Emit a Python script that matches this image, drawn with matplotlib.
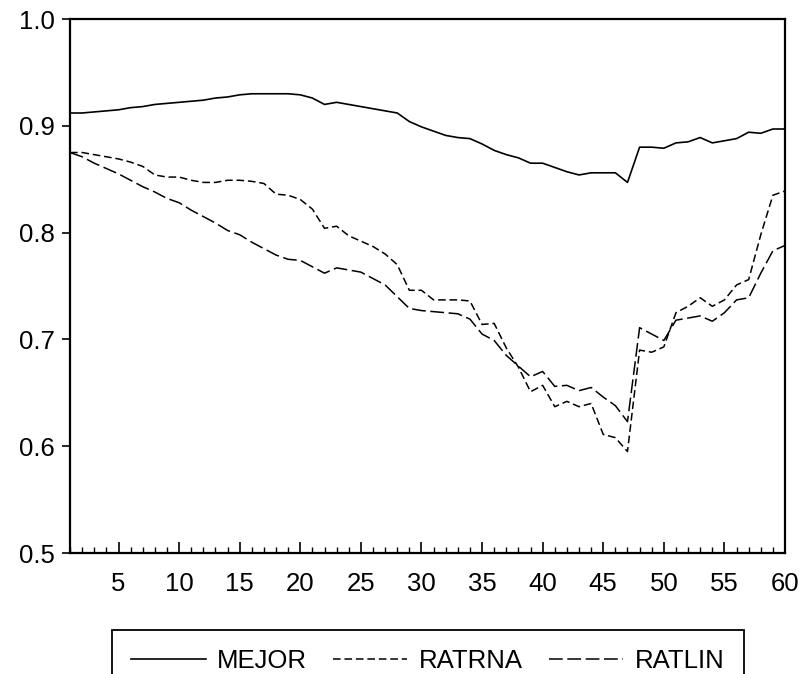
import matplotlib
matplotlib.use("Agg")
import matplotlib.pyplot as plt
from matplotlib.ticker import MultipleLocator, FormatStrFormatter

periods = list(range(1, 61))

mejor = [
    0.912, 0.912, 0.913, 0.914, 0.915, 0.917, 0.918, 0.920, 0.921, 0.922,
    0.923, 0.924, 0.926, 0.927, 0.929, 0.930, 0.930, 0.930, 0.930, 0.929,
    0.926, 0.920, 0.922, 0.920, 0.918, 0.916, 0.914, 0.912, 0.904, 0.899,
    0.895, 0.891, 0.889, 0.888, 0.883, 0.877, 0.873, 0.870, 0.865, 0.865,
    0.861, 0.857, 0.854, 0.856, 0.856, 0.856, 0.847, 0.880, 0.880, 0.879,
    0.884, 0.885, 0.889, 0.884, 0.886, 0.888, 0.894, 0.893, 0.897, 0.897,
]

ratrna = [
    0.875, 0.875, 0.873, 0.871, 0.869, 0.866, 0.862, 0.854, 0.852, 0.852,
    0.849, 0.847, 0.847, 0.849, 0.849, 0.848, 0.846, 0.836, 0.835, 0.831,
    0.822, 0.804, 0.806, 0.797, 0.792, 0.787, 0.780, 0.770, 0.746, 0.746,
    0.737, 0.737, 0.737, 0.736, 0.714, 0.715, 0.692, 0.674, 0.651, 0.657,
    0.637, 0.642, 0.637, 0.640, 0.611, 0.608, 0.595, 0.690, 0.688, 0.693,
    0.725, 0.731, 0.739, 0.731, 0.737, 0.751, 0.756, 0.798, 0.835, 0.839,
]

ratlin = [
    0.875, 0.871, 0.865, 0.860, 0.855, 0.849, 0.843, 0.838, 0.832, 0.828,
    0.821, 0.815, 0.809, 0.802, 0.798, 0.791, 0.785, 0.779, 0.775, 0.774,
    0.768, 0.762, 0.767, 0.765, 0.763, 0.757, 0.751, 0.740, 0.729, 0.727,
    0.726, 0.725, 0.724, 0.719, 0.705, 0.699, 0.685, 0.675, 0.665, 0.670,
    0.656, 0.657, 0.652, 0.655, 0.646, 0.638, 0.623, 0.711, 0.705, 0.699,
    0.718, 0.720, 0.722, 0.717, 0.725, 0.737, 0.739, 0.762, 0.783, 0.788,
]

plt.rcParams["font.family"] = ["Liberation Sans", "DejaVu Sans"]
plt.rcParams["font.size"] = 18.5

fig = plt.figure(figsize=(8.04, 6.74), dpi=100)
ax = fig.add_axes([0.0871, 0.1795, 0.8893, 0.7923])

ax.plot(periods, mejor, color="black", lw=1.2, label="MEJOR")
ax.plot(periods, ratrna, color="black", lw=1.1, dashes=(5, 2.5), label="RATRNA")
ax.plot(periods, ratlin, color="black", lw=1.1, dashes=(9, 3), label="RATLIN")

ax.set_xlim(1, 60)
ax.set_ylim(0.5, 1.0)

ax.xaxis.set_major_locator(MultipleLocator(5))
ax.xaxis.set_minor_locator(MultipleLocator(1))
ax.yaxis.set_major_locator(MultipleLocator(0.1))
ax.yaxis.set_major_formatter(FormatStrFormatter("%.1f"))

ax.tick_params(axis="x", which="major", direction="in", length=8, width=1.2, pad=14)
ax.tick_params(axis="x", which="minor", direction="in", length=4, width=1.0)
ax.tick_params(axis="y", which="major", direction="out", length=6, width=1.2, pad=5)
for s in ax.spines.values():
    s.set_linewidth(1.6)

# рамка легенды уходит за нижний край картинки, как в оригинале
leg = fig.legend(loc="upper center", bbox_to_anchor=(0.532, 1 - 630 / 674), ncol=3,
                 frameon=True, fancybox=False, edgecolor="black", framealpha=1,
                 handlelength=2.9, handletextpad=0.45, columnspacing=1.0,
                 borderpad=0.75, borderaxespad=0, fontsize=18.5)
leg.get_frame().set_linewidth(1.3)

fig.savefig("out.png", dpi=100)
